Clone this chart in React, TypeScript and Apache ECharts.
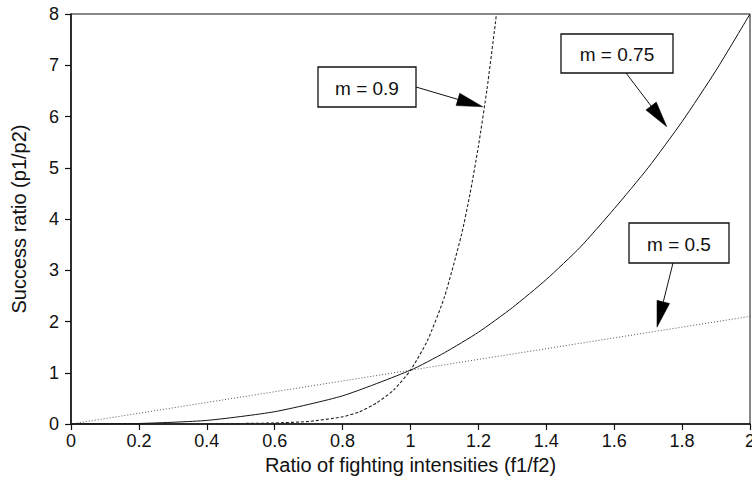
import React, { useEffect, useRef } from "react";
import * as echarts from "echarts";

const xTicks = [0, 0.2, 0.4, 0.6, 0.8, 1, 1.2, 1.4, 1.6, 1.8, 2];

const m05X = [0, 0.4, 0.8, 1.2, 1.6, 2.0];
const m05Y = [0, 0.42, 0.84, 1.26, 1.68, 2.1];

const m075X = [0, 0.2, 0.4, 0.6, 0.8, 1.0, 1.1, 1.2, 1.3, 1.4, 1.5, 1.6, 1.7, 1.8, 1.9, 2.0];
const m075Y = [0, 0.01, 0.07, 0.24, 0.55, 1.05, 1.39, 1.79, 2.27, 2.82, 3.45, 4.2, 5.0, 5.9, 6.9, 8.0];

const m09X = [0, 0.4, 0.5, 0.6, 0.7, 0.8, 0.85, 0.9, 0.95, 1.0, 1.05, 1.1, 1.15, 1.175, 1.2, 1.225, 1.25, 1.253];
const m09Y = [0, 0, 0.01, 0.02, 0.05, 0.14, 0.24, 0.41, 0.66, 1.05, 1.63, 2.48, 3.69, 4.48, 5.42, 6.52, 7.82, 8.0];

const annLabels = ["m = 0.9", "m = 0.75", "m = 0.5"];
// arrow tips in data coordinates
const annTipX = [1.213, 1.755, 1.726];
const annTipY = [6.19, 5.8, 1.89];

const FONT = "'Liberation Sans', Arial, sans-serif";

export default function App() {
  const ref = useRef<HTMLDivElement>(null);
  useEffect(() => {
    if (!ref.current) return;
    const chart = echarts.init(ref.current, null, { renderer: "svg" });
    const zip = (xs: number[], ys: number[]) => xs.map((x, i) => [x, ys[i]]);
    chart.setOption({
      animation: false,
      backgroundColor: "#fff",
      textStyle: { fontFamily: FONT },
      grid: {
        left: 71,
        right: 2,
        top: 14,
        bottom: 59,
        containLabel: false,
        outerBoundsMode: "none",
        show: true,
        borderColor: "#111",
        borderWidth: 1,
        backgroundColor: "transparent",
      },
      xAxis: {
        type: "value",
        min: 0,
        max: 2,
        interval: 0.2,
        name: "Ratio of fighting intensities (f1/f2)",
        nameLocation: "middle",
        nameGap: 31,
        nameTextStyle: { fontSize: 20, color: "#111", fontFamily: FONT },
        axisLine: { show: true, onZero: false, lineStyle: { color: "#111", width: 1.5 } },
        axisTick: { show: true, length: 6, inside: false, lineStyle: { color: "#111", width: 1.2 } },
        axisLabel: {
          fontSize: 18,
          color: "#111",
          margin: 8,
          fontFamily: FONT,
          hideOverlap: false,
          showMaxLabel: true,
          formatter: (v: number) => String(Math.round(v * 10) / 10),
        },
        splitLine: { show: false },
      },
      yAxis: {
        type: "value",
        min: 0,
        max: 8,
        interval: 1,
        name: "Success ratio (p1/p2)",
        nameLocation: "middle",
        nameGap: 42,
        nameTextStyle: { fontSize: 20, color: "#111", fontFamily: FONT },
        axisLine: { show: true, onZero: false, lineStyle: { color: "#111", width: 1.5 } },
        axisTick: { show: true, length: 6, lineStyle: { color: "#111", width: 1.2 } },
        axisLabel: { fontSize: 18, color: "#111", margin: 12, fontFamily: FONT },
        splitLine: { show: false },
      },
      series: [
        {
          name: "m = 0.5",
          type: "line",
          data: zip(m05X, m05Y),
          showSymbol: false,
          lineStyle: { color: "#555", width: 1, type: [1, 2] },
        },
        {
          name: "m = 0.75",
          type: "line",
          data: zip(m075X, m075Y),
          showSymbol: false,
          smooth: 0.2,
          lineStyle: { color: "#111", width: 1 },
        },
        {
          name: "m = 0.9",
          type: "line",
          data: zip(m09X, m09Y),
          showSymbol: false,
          smooth: 0.2,
          lineStyle: { color: "#222", width: 1.1, type: [3, 2] },
        },
      ],
    });

    // annotation boxes (pixel positions) and arrows pointing to data tips
    const boxes = [
      { x: 318, y: 67, w: 98, h: 40, ax: 416, ay: 87 },
      { x: 561, y: 34, w: 112, h: 39, ax: 626, ay: 73 },
      { x: 629, y: 223, w: 100, h: 40, ax: 673, ay: 263 },
    ];
    const elements: any[] = [];
    boxes.forEach((b, i) => {
      const tip = chart.convertToPixel({ gridIndex: 0 }, [annTipX[i], annTipY[i]]) as number[];
      const tx = tip[0];
      const ty = tip[1];
      const dx = tx - b.ax;
      const dy = ty - b.ay;
      const len = Math.sqrt(dx * dx + dy * dy);
      const ux = dx / len;
      const uy = dy / len;
      const L = 26;
      const W = 13;
      const bx = tx - ux * L;
      const by = ty - uy * L;
      const px = -uy;
      const py = ux;
      elements.push({
        type: "line",
        shape: { x1: b.ax, y1: b.ay, x2: bx, y2: by },
        style: { stroke: "#111", lineWidth: 1 },
        z: 100,
      });
      elements.push({
        type: "polygon",
        shape: {
          points: [
            [tx, ty],
            [bx + (px * W) / 2, by + (py * W) / 2],
            [bx - (px * W) / 2, by - (py * W) / 2],
          ],
        },
        style: { fill: "#000", stroke: "#000", lineWidth: 0.5 },
        z: 100,
      });
      elements.push({
        type: "rect",
        shape: { x: b.x, y: b.y, width: b.w, height: b.h },
        style: { fill: "#fff", stroke: "#111", lineWidth: 1.3 },
        z: 100,
      });
      elements.push({
        type: "text",
        x: b.x + b.w / 2,
        y: b.y + b.h / 2 + 1,
        style: {
          text: annLabels[i],
          fontSize: 19,
          fontFamily: FONT,
          fill: "#111",
          align: "center",
          verticalAlign: "middle",
        },
        z: 101,
      });
    });
    chart.setOption({ graphic: { elements } });

    return () => chart.dispose();
  }, []);
  return (
    <div
      ref={ref}
      style={{ position: "fixed", left: 0, top: 0, width: 752, height: 483, background: "#fff" }}
    />
  );
}
